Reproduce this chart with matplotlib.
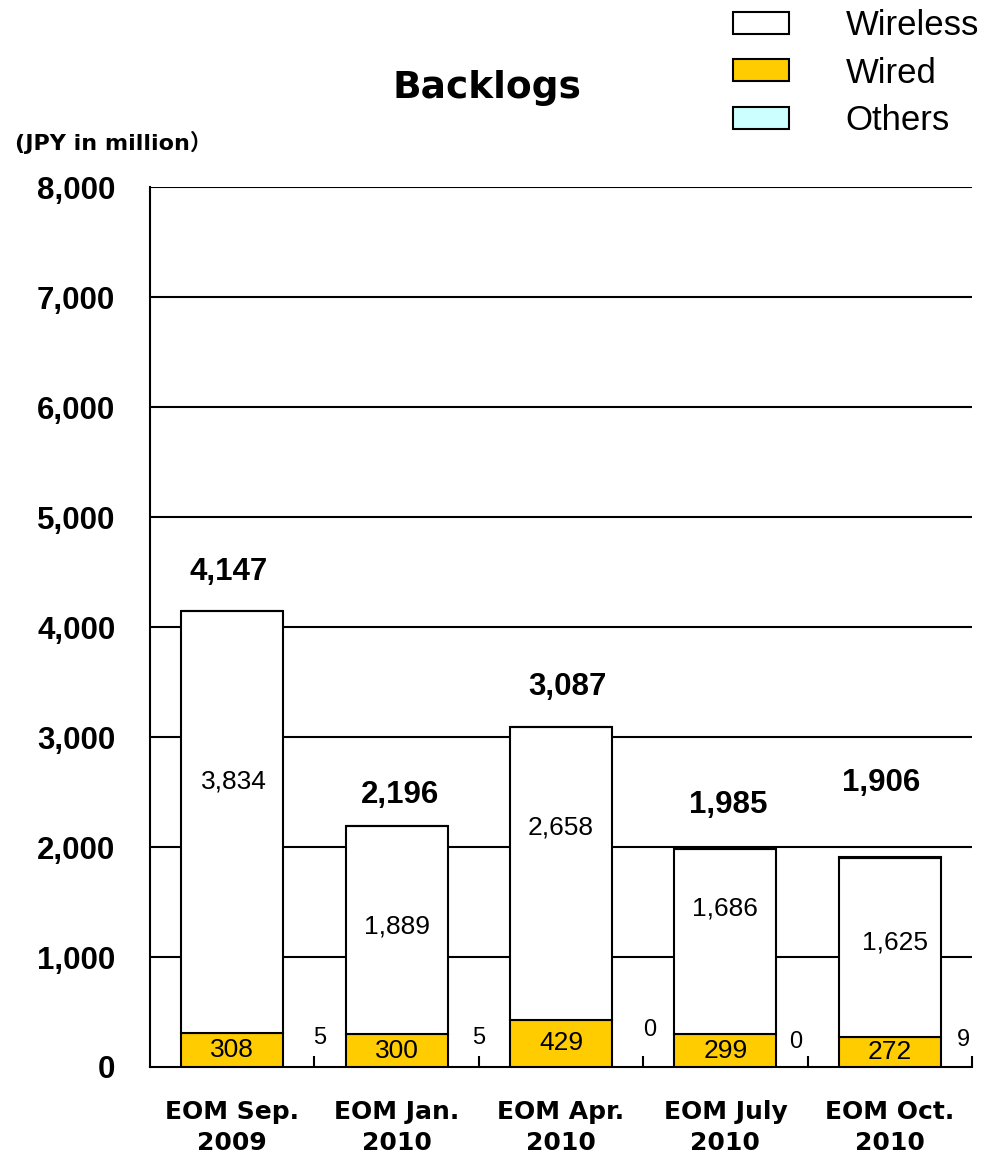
import matplotlib
matplotlib.use("Agg")
import matplotlib.pyplot as plt
from matplotlib.patches import Patch
import numpy as np

# ---- data ----
categories = ["EOM Sep.\n2009", "EOM Jan.\n2010", "EOM Apr.\n2010", "EOM July\n2010", "EOM Oct.\n2010"]
wireless = [3834, 1889, 2658, 1686, 1625]
wired = [308, 300, 429, 299, 272]
others = [5, 5, 0, 0, 9]
totals = [4147, 2196, 3087, 1985, 1906]
yticks = [0, 1000, 2000, 3000, 4000, 5000, 6000, 7000, 8000]

# ---- label placement (style) ----
total_dy = [353, 277, 368, 397, 676]
total_dx = [-0.02, 0.02, 0.04, 0.02, -0.05]
wl_dy = [366, 29, 415, 303, 43]
wl_dx = [0.01, 0.0, 0.0, 0.0, 0.03]
oth_x = [0.53, 1.50, 2.54, 3.43, 4.45]
oth_y = [264, 264, 336, 227, 245]

WIRED_C = "#FFCC00"
OTH_C = "#CCFFFF"
EDGE_LW = 1.5

fig = plt.figure(figsize=(9.9, 11.56), dpi=100)
ax = fig.add_axes([150/990, 1-1067/1156, (972-150)/990, (1067-187)/1156])

x = np.arange(len(categories))
w = 0.62
wired_a = np.array(wired)
wl_a = np.array(wireless)
ax.bar(x, wired_a, w, color=WIRED_C, edgecolor="black", linewidth=EDGE_LW, zorder=3)
ax.bar(x, wl_a, w, bottom=wired_a, color="white", edgecolor="black", linewidth=EDGE_LW, zorder=3)
ax.bar(x, others, w, bottom=wired_a + wl_a, color=OTH_C, edgecolor="black", linewidth=EDGE_LW, zorder=3)

ax.set_xlim(-0.5, len(categories) - 0.5)
ax.set_ylim(0, 8000)
ax.set_yticks(yticks)
ax.set_yticklabels([f"{v:,}" for v in yticks], fontfamily="Liberation Sans",
                   fontweight="bold", fontsize=22.5)
ax.tick_params(axis="y", length=0, pad=25)
for v in yticks[1:]:
    ax.axhline(v, color="black", lw=1.5, zorder=1)

ax.set_xticks(np.arange(len(categories)) + 0.5)
ax.set_xticklabels([])
ax.tick_params(axis="x", which="major", direction="in", length=8, width=1.5, color="black")
ax.set_xticks(x, minor=True)
ax.set_xticklabels(categories, minor=True, fontfamily="DejaVu Sans", fontweight="bold",
                   fontsize=18, linespacing=1.35)
ax.tick_params(axis="x", which="minor", length=0, pad=24)

for s in ["top", "right"]:
    ax.spines[s].set_visible(False)
for s in ["left", "bottom"]:
    ax.spines[s].set_linewidth(1.5)
    ax.spines[s].set_color("black")

for i in range(len(categories)):
    ax.text(x[i] + total_dx[i], totals[i] + total_dy[i], f"{totals[i]:,}", ha="center", va="center",
            fontfamily="Liberation Sans", fontweight="bold", fontsize=22.5, zorder=5)
    ax.text(x[i] + wl_dx[i], wired[i] + wireless[i] / 2 + wl_dy[i], f"{wireless[i]:,}", ha="center",
            va="center", fontfamily="Liberation Sans", fontsize=19, zorder=5)
    ax.text(x[i], wired[i] / 2, f"{wired[i]:,}", ha="center", va="center",
            fontfamily="Liberation Sans", fontsize=19, zorder=5)
    ax.text(oth_x[i], oth_y[i], f"{others[i]:,}", ha="center", va="center",
            fontfamily="Liberation Sans", fontsize=17, zorder=5)

fig.text(487/990, 1-88/1156, "Backlogs", ha="center", va="center",
         fontfamily="DejaVu Sans", fontweight="bold", fontsize=27)
fig.text(15/990, 1-142/1156, "(JPY in million\uff09", ha="left", va="center",
         family=["DejaVu Sans", "Noto Sans CJK JP"], fontweight="bold", fontsize=16)

handles = [Patch(facecolor="white", edgecolor="black", linewidth=EDGE_LW),
           Patch(facecolor=WIRED_C, edgecolor="black", linewidth=EDGE_LW),
           Patch(facecolor=OTH_C, edgecolor="black", linewidth=EDGE_LW)]
fig.legend(handles, ["Wireless", "Wired", "Others"], loc="upper left",
           bbox_to_anchor=(733/990, 1 - 9/1156), frameon=False, borderpad=0, borderaxespad=0,
           prop={"family": "Liberation Sans", "size": 25}, handlelength=1.6, handleheight=0.6,
           handletextpad=1.64, labelspacing=0.42)

fig.savefig("out.png", dpi=100)
